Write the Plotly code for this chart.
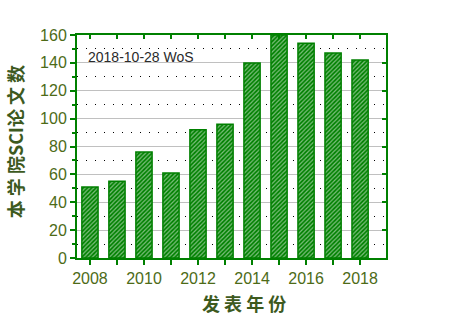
import plotly.graph_objects as go

# Publication counts per year
years = [2008, 2009, 2010, 2011, 2012, 2013, 2014, 2015, 2016, 2017, 2018]
papers = [51, 55, 76, 61, 92, 96, 140, 160, 154, 147, 142]
x_tick_text = ["2008", "", "2010", "", "2012", "", "2014", "", "2016", "", "2018"]
y_ticks = [0, 20, 40, 60, 80, 100, 120, 140, 160]

GREEN = "#008000"
LABEL = "#4d6b17"
TITLE = "#3d5a1e"

fig = go.Figure()
fig.add_trace(go.Bar(
    x=years, y=papers, width=0.6,
    marker=dict(
        color=GREEN,
        line=dict(color=GREEN, width=1.5),
        pattern=dict(shape="/", bgcolor=GREEN, fgcolor="white", size=3, solidity=0.4),
    ),
    hoverinfo="skip",
))
# invisible trace to carry the mirrored top/right axes
fig.add_trace(go.Scatter(x=years, y=papers, mode="none", xaxis="x2", yaxis="y2",
                         hoverinfo="skip", showlegend=False))

xrange = [2007.52, 2018.96]
yrange = [0, 160]

fig.update_layout(
    width=454, height=320,
    margin=dict(l=77, r=68, t=35, b=62),
    paper_bgcolor="white", plot_bgcolor="white",
    showlegend=False,
    font=dict(family="Liberation Sans, Arial, sans-serif"),
    xaxis=dict(
        range=xrange, tickmode="array", tickvals=years, ticktext=x_tick_text,
        ticks="outside", ticklen=5, tickwidth=1.5, tickcolor=GREEN,
        showline=True, linecolor=GREEN, linewidth=2,
        showgrid=False, zeroline=False,
        tickfont=dict(size=16, color=LABEL),
    ),
    yaxis=dict(
        range=yrange, tickmode="array", tickvals=y_ticks,
        ticks="outside", ticklen=5, tickwidth=1.5, tickcolor=GREEN,
        showline=True, linecolor=GREEN, linewidth=2,
        showgrid=True, gridcolor="#c0c0c0", gridwidth=1, zeroline=False,
        tickfont=dict(size=16, color=LABEL),
        minor=dict(dtick=10, tick0=0, ticks="outside", ticklen=3, tickwidth=1.5,
                   tickcolor=GREEN, showgrid=True, gridcolor="black",
                   gridwidth=1, griddash="1px,8px"),
    ),
    xaxis2=dict(
        overlaying="x", side="top", range=xrange, tickmode="array", tickvals=years,
        ticks="inside", ticklen=4, tickwidth=1.5, tickcolor=GREEN,
        showticklabels=False, showline=True, linecolor=GREEN, linewidth=2,
        showgrid=False, zeroline=False,
    ),
    yaxis2=dict(
        overlaying="y", side="right", range=yrange, tickmode="array", tickvals=y_ticks,
        ticks="inside", ticklen=4, tickwidth=1.5, tickcolor=GREEN,
        showticklabels=False, showline=True, linecolor=GREEN, linewidth=2,
        showgrid=False, zeroline=False,
    ),
    annotations=[
        dict(text="2018-10-28 WoS", xref="paper", yref="paper", x=0.03, y=0.9,
             xanchor="left", yanchor="middle", showarrow=False,
             font=dict(size=14, color="#2a2a2a")),
        dict(text="<b>本 学 院SCI论 文 数</b>", xref="paper", yref="paper",
             x=-0.2, y=0.52, xanchor="center", yanchor="middle", textangle=-90,
             showarrow=False,
             font=dict(size=18, color=TITLE, family="Noto Sans CJK SC")),
        dict(text="<b>发 表 年 份</b>", xref="paper", yref="paper",
             x=0.54, y=-0.2, xanchor="center", yanchor="middle",
             showarrow=False,
             font=dict(size=18, color=TITLE, family="Noto Sans CJK SC")),
    ],
)

fig.write_html("out.html")
